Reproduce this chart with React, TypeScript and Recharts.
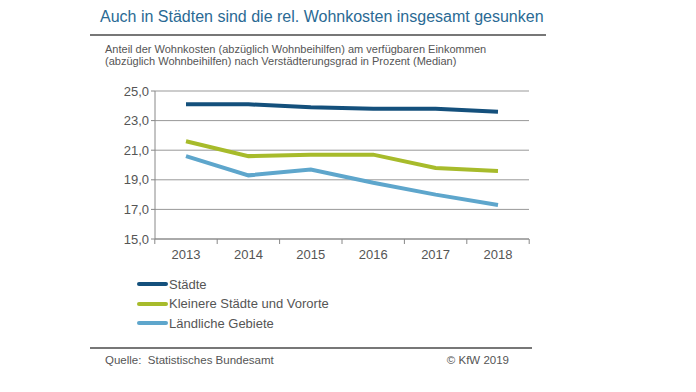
import React from 'react';
import { LineChart, Line, XAxis, YAxis, CartesianGrid } from 'recharts';

const YEARS = ['2013', '2014', '2015', '2016', '2017', '2018'];
const STAEDTE = [24.1, 24.1, 23.9, 23.8, 23.8, 23.6];
const KLEINERE = [21.6, 20.6, 20.7, 20.7, 19.8, 19.6];
const LAENDLICH = [20.6, 19.3, 19.7, 18.8, 18.0, 17.3];
const Y_TICKS = [15, 17, 19, 21, 23, 25];

const SERIES = [
    { key: 'staedte', name: 'Städte', color: '#14507c', values: STAEDTE },
    { key: 'kleinere', name: 'Kleinere Städte und Vororte', color: '#a7bb2b', values: KLEINERE },
    { key: 'laendlich', name: 'Ländliche Gebiete', color: '#5ea6cc', values: LAENDLICH },
];

const data = YEARS.map((year, i) => {
    const row: any = { year };
    SERIES.forEach(s => { row[s.key] = s.values[i]; });
    return row;
});

const FONT = '"Liberation Sans", Arial, sans-serif';
const HALF_BAND = 31.2;

const XTick = ({ x, y, payload, index }: any) => (
    <g>
        <line x1={x - HALF_BAND} y1={y - 8} x2={x - HALF_BAND} y2={y - 3} stroke="#888" />
        {index === YEARS.length - 1 && (
            <line x1={x + HALF_BAND} y1={y - 8} x2={x + HALF_BAND} y2={y - 3} stroke="#888" />
        )}
        <text x={x} y={y + 12} textAnchor="middle" fill="#555" fontSize={13} fontFamily={FONT}>
            {payload.value}
        </text>
    </g>
);

const App: React.FC = () => {
    return (
        <div style={{ position: 'absolute', left: 0, top: 0, width: 696, height: 392, background: '#fff', fontFamily: FONT }}>
            <div style={{ position: 'absolute', left: 100, top: 8, fontSize: 16, color: '#2a6a94', whiteSpace: 'nowrap' }}>
                Auch in Städten sind die rel. Wohnkosten insgesamt gesunken
            </div>
            <div style={{ position: 'absolute', left: 90, top: 34, width: 456, height: 2, background: '#777' }} />
            <div style={{ position: 'absolute', left: 105, top: 43, fontSize: 11, lineHeight: '12px', color: '#555', whiteSpace: 'nowrap' }}>
                Anteil der Wohnkosten (abzüglich Wohnbeihilfen) am verfügbaren Einkommen<br />
                (abzüglich Wohnbeihilfen) nach Verstädterungsgrad in Prozent (Median)
            </div>

            <LineChart
                width={696}
                height={392}
                data={data}
                margin={{ top: 91, right: 167, left: 95, bottom: 123 }}
                style={{ position: 'absolute', left: 0, top: 0 }}
            >
                <CartesianGrid vertical={false} stroke="#999" />
                <XAxis
                    dataKey="year"
                    padding={{ left: 31, right: 31 }}
                    tick={<XTick />}
                    tickLine={false}
                    axisLine={{ stroke: '#888' }}
                    height={30}
                    interval={0}
                />
                <YAxis
                    domain={[15, 25]}
                    ticks={Y_TICKS}
                    width={60}
                    tickFormatter={(v: number) => v.toFixed(1).replace('.', ',')}
                    tick={{ fill: '#555', fontSize: 13, fontFamily: FONT }}
                    tickLine={{ stroke: '#888' }}
                    tickSize={4}
                    axisLine={{ stroke: '#888' }}
                />
                {SERIES.map(s => (
                    <Line
                        key={s.key}
                        dataKey={s.key}
                        name={s.name}
                        stroke={s.color}
                        strokeWidth={4}
                        dot={false}
                        isAnimationActive={false}
                    />
                ))}
            </LineChart>

            {SERIES.map((s, i) => (
                <div key={s.key} style={{ position: 'absolute', left: 137, top: 276 + i * 19.7, height: 16, display: 'flex', alignItems: 'center' }}>
                    <div style={{ width: 31, height: 4, borderRadius: 2, background: s.color }} />
                    <span style={{ fontSize: 13, color: '#555', marginLeft: 1 }}>{s.name}</span>
                </div>
            ))}

            <div style={{ position: 'absolute', left: 90, top: 347, width: 442, height: 2, background: '#777' }} />
            <div style={{ position: 'absolute', left: 105, top: 354, fontSize: 11.5, color: '#555' }}>
                Quelle:&nbsp; Statistisches Bundesamt
            </div>
            <div style={{ position: 'absolute', right: 696 - 509, top: 354, fontSize: 11.5, color: '#555' }}>
                © KfW 2019
            </div>
        </div>
    );
};

export default App;
